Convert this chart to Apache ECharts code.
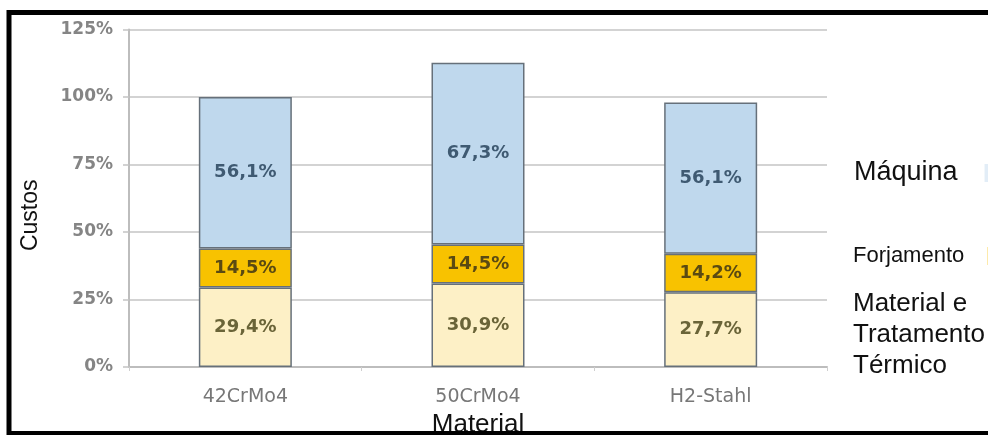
<!DOCTYPE html>
<html>
<head>
<meta charset="utf-8">
<script src="https://cdn.jsdelivr.net/npm/echarts@6/dist/echarts.min.js"></script>
<style>
html,body{margin:0;padding:0;background:#fff;}
#c{width:988px;height:435px;}
</style>
</head>
<body>
<div id="c"></div>
<script>
// Data
const categories = ['42CrMo4', '50CrMo4', 'H2-Stahl'];
const materialTratamento = [29.4, 30.9, 27.7];
const forjamento = [14.5, 14.5, 14.2];
const maquina = [56.1, 67.3, 56.1];
const yMin = 0, yMax = 125, yStep = 25;

const NAME_MAT = 'Material e Tratamento Térmico';
const NAME_FOR = 'Forjamento';
const NAME_MAQ = 'Máquina';

const fmt = p => p.value.toFixed(1).replace('.', ',') + '%';
const borderCol = '#66707a';

const chart = echarts.init(document.getElementById('c'), null, {renderer: 'canvas'});
chart.setOption({
  animation: false,
  backgroundColor: '#ffffff',
  grid: {left: 129, right: 161, top: 29.5, bottom: 68, containLabel: false, outerBoundsMode: 'none'},
  legend: [
    {
      data: [NAME_MAQ], left: 854, top: 158, orient: 'vertical', align: 'right',
      icon: 'rect', itemWidth: 12, itemHeight: 18, padding: 0,
      itemStyle: {opacity: 0.45, borderWidth: 0},
      textStyle: {fontFamily: 'Liberation Sans', fontSize: 27, color: '#111', lineHeight: 30, padding: [0, 22, 0, 0]}
    },
    {
      data: [NAME_FOR], left: 853, top: 243, orient: 'vertical', align: 'right',
      icon: 'rect', itemWidth: 12, itemHeight: 18, padding: 0,
      itemStyle: {opacity: 0.45, borderWidth: 0},
      textStyle: {fontFamily: 'Liberation Sans', fontSize: 22, color: '#111', lineHeight: 26, padding: [0, 18, 0, 0]}
    },
    {
      data: [NAME_MAT], left: 848, top: 288, orient: 'vertical', align: 'left',
      icon: 'none', itemWidth: 0, itemHeight: 18, padding: 0,
      formatter: () => 'Material e\nTratamento\nTérmico',
      textStyle: {fontFamily: 'Liberation Sans', fontSize: 26, color: '#111', lineHeight: 31}
    }
  ],
  xAxis: {
    type: 'category',
    data: categories,
    name: 'Material',
    nameLocation: 'middle',
    nameGap: 41,
    nameTextStyle: {fontFamily: 'Liberation Sans', fontSize: 26, color: '#111'},
    axisLine: {lineStyle: {color: '#bdbdbd', width: 2}},
    axisTick: {show: true, length: 4, lineStyle: {color: '#cfcfcf', width: 1}},
    axisLabel: {margin: 21, fontFamily: 'DejaVu Sans', fontSize: 19, color: '#777'}
  },
  yAxis: {
    type: 'value',
    min: yMin, max: yMax, interval: yStep,
    name: 'Custos',
    nameLocation: 'middle',
    nameRotate: 90,
    nameGap: 87,
    nameTextStyle: {fontFamily: 'Liberation Sans', fontSize: 23, color: '#111', padding: [0, 34, 0, 0]},
    axisLine: {show: true, lineStyle: {color: '#bdbdbd', width: 2}},
    axisTick: {show: true, length: 6, lineStyle: {color: '#c4c4c4', width: 1.5}},
    axisLabel: {margin: 16, formatter: '{value}%', fontFamily: 'DejaVu Sans', fontWeight: 'bold', fontSize: 17, color: '#858585'},
    splitLine: {lineStyle: {color: '#c4c4c4', width: 1.5}}
  },
  series: [
    {
      name: NAME_MAT, type: 'bar', stack: 'total', barWidth: 93, data: materialTratamento,
      itemStyle: {color: '#fdf0c6', borderColor: borderCol, borderWidth: 1.5},
      label: {show: true, position: 'inside', formatter: fmt, fontFamily: 'DejaVu Sans', fontWeight: 'bold', fontSize: 18, color: '#6a6438'}
    },
    {
      name: NAME_FOR, type: 'bar', stack: 'total', barWidth: 93, data: forjamento,
      itemStyle: {color: '#f8c200', borderColor: borderCol, borderWidth: 1.5},
      label: {show: true, position: 'inside', formatter: fmt, fontFamily: 'DejaVu Sans', fontWeight: 'bold', fontSize: 18, color: '#5a4a12'}
    },
    {
      name: NAME_MAQ, type: 'bar', stack: 'total', barWidth: 93, data: maquina,
      itemStyle: {color: '#bfd8ed', borderColor: borderCol, borderWidth: 1.5},
      label: {show: true, position: 'inside', formatter: fmt, fontFamily: 'DejaVu Sans', fontWeight: 'bold', fontSize: 18, color: '#3f5a72'}
    }
  ],
  graphic: [
    {
      type: 'rect', z: 100, silent: true,
      shape: {x: 9, y: 12.5, width: 1000, height: 421},
      style: {fill: 'none', stroke: '#000', lineWidth: 5}
    }
  ]
});
</script>
</body>
</html>
